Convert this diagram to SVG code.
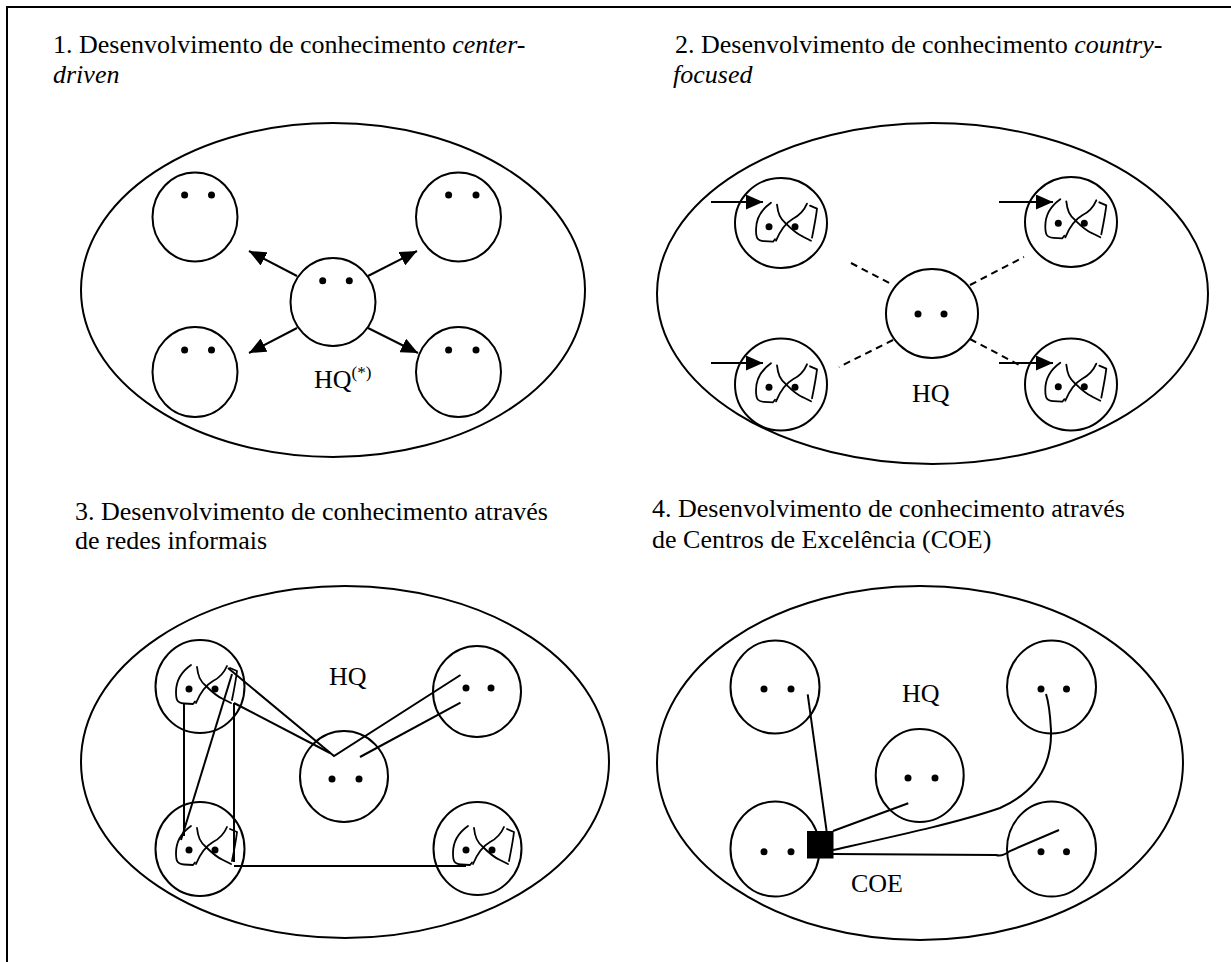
<svg xmlns="http://www.w3.org/2000/svg" width="1231" height="962" viewBox="0 0 1231 962">
<style>
 .o{fill:none;stroke:#000;stroke-width:2}
 .c{fill:none;stroke:#000;stroke-width:2}
 .ln{fill:none;stroke:#000;stroke-width:2}
 .d{stroke-dasharray:7 5}
 .eye{fill:#000}
 .gs{fill:none;stroke:#000;stroke-width:1.8;stroke-linecap:round;stroke-linejoin:round}
 text{font-family:"Liberation Serif","Times New Roman",serif;font-size:26px;fill:#000}
 .i{font-style:italic}
</style>
<defs>
 <marker id="ah" markerUnits="userSpaceOnUse" markerWidth="17" markerHeight="15" refX="17" refY="7.5" orient="auto"><path d="M0,0 L17,7.5 L0,15 Z" fill="#000"/></marker>
 <g id="gl">
  <path class="gs" d="M-10,-21 C-20,-14 -25,-5 -25,6 C-25,14 -24,17 -17,17.5 L-8,18 L-6,15.5"/>
  <path class="gs" d="M-4,-19 C-3,-10 -1,-5 5,0 C10,5 15,10 22,13 L30,17"/>
  <path class="gs" d="M26,-20 C23,-13 18,-8 12,-5 C5,-1 0,5 -5,17"/>
  <path class="gs" d="M29,-18 L36,-15 C35,-6 33,4 31,14"/>
  <circle cx="-12" cy="3" r="3.5" class="eye"/>
  <circle cx="14" cy="3" r="3.5" class="eye"/>
 </g>
</defs>
<rect width="1231" height="962" fill="#fff"/>
<path d="M7,962 V7 H1231" fill="none" stroke="#000" stroke-width="2"/>

<!-- Panel 1 -->
<g id="p1-title">
 <text x="53" y="53">1. Desenvolvimento de conhecimento <tspan class="i">center-</tspan></text>
 <text x="53" y="83" class="i">driven</text>
</g>
<g id="p1-org"><ellipse class="o" cx="333" cy="290" rx="252" ry="167"/></g>
<g id="p1-tl"><ellipse class="c" cx="195" cy="217" rx="42.5" ry="44.5"/><circle class="eye" cx="184.6" cy="195" r="3.5"/><circle class="eye" cx="211.5" cy="195" r="3.5"/></g>
<g id="p1-tr"><ellipse class="c" cx="458.5" cy="217" rx="42.5" ry="44.5"/><circle class="eye" cx="448.6" cy="195" r="3.5"/><circle class="eye" cx="476" cy="195" r="3.5"/></g>
<g id="p1-bl"><ellipse class="c" cx="195" cy="372" rx="42.5" ry="45"/><circle class="eye" cx="184.6" cy="350" r="3.5"/><circle class="eye" cx="211.5" cy="350" r="3.5"/></g>
<g id="p1-br"><ellipse class="c" cx="458.5" cy="372" rx="42.5" ry="45"/><circle class="eye" cx="448.6" cy="350" r="3.5"/><circle class="eye" cx="476" cy="350" r="3.5"/></g>
<g id="p1-hq"><ellipse class="c" cx="333" cy="302" rx="42.5" ry="44"/><circle class="eye" cx="322.7" cy="280.7" r="3.5"/><circle class="eye" cx="349.3" cy="280.7" r="3.5"/>
 <text x="314" y="388">HQ<tspan font-size="17" dy="-10">(*)</tspan></text></g>
<g id="p1-connectors">
 <line class="ln" x1="297" y1="276" x2="249" y2="251" marker-end="url(#ah)"/>
 <line class="ln" x1="368" y1="276" x2="417" y2="251" marker-end="url(#ah)"/>
 <line class="ln" x1="297" y1="328" x2="249" y2="353" marker-end="url(#ah)"/>
 <line class="ln" x1="368" y1="328" x2="418" y2="353" marker-end="url(#ah)"/>
</g>

<!-- Panel 2 -->
<g id="p2-title">
 <text x="675" y="53">2. Desenvolvimento de conhecimento <tspan class="i">country-</tspan></text>
 <text x="673" y="83" class="i">focused</text>
</g>
<g id="p2-org"><ellipse class="o" cx="932.5" cy="293.5" rx="275.5" ry="170.5"/></g>
<g id="p2-tl"><ellipse class="c" cx="781" cy="223" rx="46" ry="45"/><use href="#gl" x="781" y="223.7"/></g>
<g id="p2-tr"><ellipse class="c" cx="1071" cy="222" rx="46" ry="45"/><use href="#gl" x="1070.3" y="220.3"/></g>
<g id="p2-bl"><ellipse class="c" cx="781" cy="384.5" rx="46" ry="46"/><use href="#gl" x="781" y="384.3"/></g>
<g id="p2-br"><ellipse class="c" cx="1071" cy="384.5" rx="46" ry="46"/><use href="#gl" x="1070.3" y="383.7"/></g>
<g id="p2-hq"><ellipse class="c" cx="932" cy="313.5" rx="46" ry="44.5"/><circle class="eye" cx="918" cy="314" r="3.5"/><circle class="eye" cx="944" cy="314" r="3.5"/>
 <text x="912" y="402">HQ</text></g>
<g id="p2-connectors">
 <line class="ln d" x1="851" y1="263" x2="893" y2="285"/>
 <line class="ln d" x1="970" y1="285" x2="1024" y2="257"/>
 <line class="ln d" x1="893" y1="340" x2="839" y2="367"/>
 <line class="ln d" x1="970" y1="339" x2="1023" y2="367"/>
 <line class="ln" x1="711" y1="202" x2="763" y2="202" marker-end="url(#ah)"/>
 <line class="ln" x1="711" y1="363" x2="763" y2="363" marker-end="url(#ah)"/>
 <line class="ln" x1="999" y1="202" x2="1053" y2="202" marker-end="url(#ah)"/>
 <line class="ln" x1="999" y1="363" x2="1053" y2="363" marker-end="url(#ah)"/>
</g>

<!-- Panel 3 -->
<g id="p3-title">
 <text x="75" y="520">3. Desenvolvimento de conhecimento através</text>
 <text x="75" y="549">de redes informais</text>
</g>
<g id="p3-org"><ellipse class="o" cx="345" cy="762" rx="264" ry="176"/></g>
<g id="p3-tl"><ellipse class="c" cx="200" cy="686.5" rx="44.5" ry="46.5"/><use href="#gl" x="201" y="686"/></g>
<g id="p3-tr"><ellipse class="c" cx="477" cy="691.5" rx="44" ry="45.5"/><circle class="eye" cx="466" cy="688" r="3.5"/><circle class="eye" cx="491" cy="688" r="3.5"/></g>
<g id="p3-hq"><ellipse class="c" cx="344" cy="776.5" rx="44" ry="45.5"/><circle class="eye" cx="332" cy="779" r="3.5"/><circle class="eye" cx="359" cy="779" r="3.5"/>
 <text x="329" y="685">HQ</text></g>
<g id="p3-bl"><ellipse class="c" cx="200" cy="849" rx="44.5" ry="47"/><use href="#gl" x="201" y="847"/></g>
<g id="p3-br"><ellipse class="c" cx="477.5" cy="848.5" rx="44" ry="46.5"/><use href="#gl" x="478" y="847"/></g>
<g id="p3-connectors">
 <polyline class="ln" points="228,668 334,756 460.5,675"/>
 <line class="ln" x1="234" y1="703" x2="330" y2="753"/>
 <line class="ln" x1="360" y1="757" x2="460.5" y2="702.7"/>
 <line class="ln" x1="184" y1="703" x2="184" y2="836"/>
 <line class="ln" x1="232" y1="674" x2="181" y2="840"/>
 <line class="ln" x1="234" y1="703" x2="234" y2="862"/>
 <line class="ln" x1="234" y1="866" x2="466" y2="866"/>
</g>

<!-- Panel 4 -->
<g id="p4-title">
 <text x="652" y="517">4. Desenvolvimento de conhecimento através</text>
 <text x="652" y="548">de Centros de Excelência (COE)</text>
</g>
<g id="p4-org"><ellipse class="o" cx="920" cy="763" rx="263" ry="177"/></g>
<g id="p4-tl"><ellipse class="c" cx="775" cy="687" rx="44.5" ry="46.5"/><circle class="eye" cx="764" cy="689" r="3.5"/><circle class="eye" cx="791" cy="689" r="3.5"/></g>
<g id="p4-tr"><ellipse class="c" cx="1051.5" cy="687" rx="44.5" ry="46.5"/><circle class="eye" cx="1041" cy="689" r="3.5"/><circle class="eye" cx="1066.5" cy="689" r="3.5"/></g>
<g id="p4-hq"><ellipse class="c" cx="919.7" cy="775.5" rx="44" ry="46.5"/><circle class="eye" cx="908" cy="778" r="3.5"/><circle class="eye" cx="935" cy="778" r="3.5"/>
 <text x="902" y="702">HQ</text></g>
<g id="p4-bl"><ellipse class="c" cx="775" cy="849" rx="44.5" ry="47.5"/><circle class="eye" cx="764" cy="851.7" r="3.5"/><circle class="eye" cx="791" cy="851.7" r="3.5"/></g>
<g id="p4-br"><ellipse class="c" cx="1051.5" cy="849" rx="44.5" ry="47.5"/><circle class="eye" cx="1041" cy="851.7" r="3.5"/><circle class="eye" cx="1066.5" cy="851.7" r="3.5"/></g>
<g id="p4-coe"><rect x="807" y="831" width="26.5" height="27.5" fill="#000"/><text x="851" y="892">COE</text></g>
<g id="p4-connectors">
 <line class="ln" x1="807.7" y1="694.3" x2="826.6" y2="831"/>
 <line class="ln" x1="833" y1="831" x2="908.3" y2="803.3"/>
 <path class="ln" d="M833,850 C900,835 960,822 1000,808 C1040,790 1052,760 1051,730 C1050,712 1048,700 1046,694"/>
 <path class="ln" d="M833,854 L996,855 Q1002,857 1010,851 L1059,830"/>
</g>
</svg>
